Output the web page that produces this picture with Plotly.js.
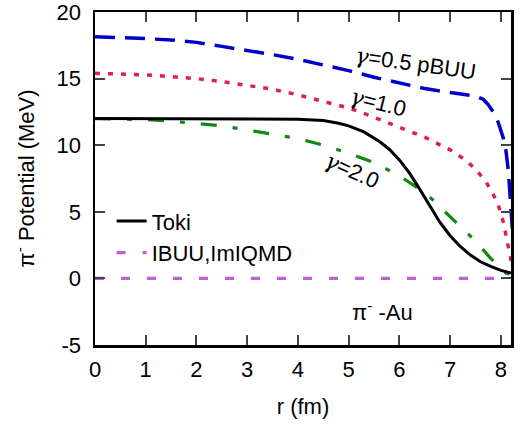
<!DOCTYPE html>
<html>
<head>
<meta charset="utf-8">
<script src="https://cdn.plot.ly/plotly-3.0.1.min.js"></script>
<style>html,body{margin:0;padding:0;background:#fff;}#chart{width:526px;height:425px;}</style>
</head>
<body>
<div id="chart"></div>
<script>
// r (fm) grids and potentials (MeV)
const rPbuu05 = [0, 0.5, 1.0, 1.5, 2.0, 2.5, 3.0, 3.5, 4.0, 4.5, 5.0, 5.5, 6.0, 6.5, 7.0, 7.3, 7.5, 7.65, 7.75, 7.85, 7.95, 8.05, 8.1, 8.15, 8.2, 8.23];
const vPbuu05 = [18.15, 18.1, 18.0, 17.9, 17.72, 17.42, 17.12, 16.8, 16.45, 16.05, 15.6, 15.1, 14.65, 14.25, 13.95, 13.82, 13.7, 13.45, 13.05, 12.5, 11.7, 10.5, 9.6, 8.0, 5.5, 3.5];

const rGamma10 = [0, 0.5, 1.0, 1.5, 2.0, 2.5, 3.0, 3.5, 4.0, 4.5, 5.0, 5.5, 6.0, 6.5, 7.0, 7.3, 7.5, 7.7, 7.85, 7.95, 8.05, 8.12, 8.18, 8.22];
const vGamma10 = [15.4, 15.35, 15.28, 15.15, 15.0, 14.78, 14.52, 14.2, 13.78, 13.3, 12.8, 12.1, 11.35, 10.6, 9.65, 8.9, 8.2, 7.3, 6.3, 5.5, 4.2, 3.0, 1.9, 1.0];

const rGamma20 = [0, 0.5, 1.0, 1.5, 2.0, 2.5, 3.0, 3.5, 4.0, 4.5, 5.0, 5.5, 6.0, 6.3, 6.6, 6.9, 7.2, 7.5, 7.8, 8.0, 8.1, 8.2];
const vGamma20 = [12.0, 11.98, 11.92, 11.8, 11.65, 11.45, 11.15, 10.85, 10.5, 10.0, 9.4, 8.7, 7.7, 6.95, 6.1, 5.0, 3.9, 2.8, 1.5, 0.75, 0.4, 0.3];

const rToki = [0, 1, 2, 3, 4, 4.5, 4.8, 5.0, 5.3, 5.6, 5.8, 6.0, 6.2, 6.4, 6.6, 6.8, 7.0, 7.2, 7.4, 7.6, 7.8, 8.0, 8.2];
const vToki = [12.0, 12.0, 12.0, 11.98, 11.95, 11.85, 11.65, 11.45, 11.0, 10.3, 9.7, 8.9, 7.9, 6.7, 5.4, 4.2, 3.2, 2.4, 1.75, 1.25, 0.9, 0.6, 0.4];

const rIbuu = [0, 8.07];
const vIbuu = [0, 0];

const seriesNames = ["Toki", "IBUU,ImIQMD"];
const xTicks = [0, 1, 2, 3, 4, 5, 6, 7, 8];
const xTickText = ["0", "1", "2", "3", "4", "5", "6", "7", "8"];
const yTicks = [-5, 0, 5, 10, 15, 20];
const yTickText = ["-5", "0", "5", "10", "15", "20"];

const FONT = "Liberation Sans, Arial, Helvetica, sans-serif";
const GAMMA = '<span style="font-family:DejaVu Serif;font-style:italic">γ</span>';

const traces = [
  {x: rPbuu05, y: vPbuu05, mode: "lines", showlegend: false,
   line: {color: "#0000cc", width: 3.5, dash: "20px,10px"}},
  {x: rGamma10, y: vGamma10, mode: "lines", showlegend: false,
   line: {color: "#e0204a", width: 3.5, dash: "5px,8px"}},
  {x: rGamma20, y: vGamma20, mode: "lines", showlegend: false,
   line: {color: "#118811", width: 3.2, dash: "16px,16px,5px,16px"}},
  {x: rToki, y: vToki, mode: "lines", name: seriesNames[0],
   line: {color: "#000000", width: 3}},
  {x: rIbuu, y: vIbuu, mode: "lines", name: seriesNames[1],
   line: {color: "#c060d8", width: 3.2, dash: "9px,17px"}}
];

const layout = {
  width: 526, height: 425,
  margin: {l: 95, r: 15, t: 12, b: 80},
  paper_bgcolor: "#ffffff", plot_bgcolor: "#ffffff",
  font: {family: FONT, size: 22, color: "#000"},
  xaxis: {
    range: [0, 8.2], tickvals: xTicks, ticktext: xTickText, ticks: "inside", ticklen: 10, tickwidth: 2,
    showline: true, linewidth: 2.5, linecolor: "#000", mirror: "ticks",
    showgrid: false, zeroline: false, ticklabelstandoff: 3, ticklabeloverflow: "allow",
    tickfont: {family: FONT, size: 22},
    title: {text: "r (fm)", font: {family: FONT, size: 22}, standoff: 18}
  },
  yaxis: {
    range: [-5, 20], tickvals: yTicks, ticktext: yTickText, ticks: "inside", ticklen: 10, tickwidth: 2,
    showline: true, linewidth: 2.5, linecolor: "#000", mirror: "ticks",
    showgrid: false, zeroline: false, ticklabelstandoff: 7, ticklabeloverflow: "allow",
    tickfont: {family: FONT, size: 22},
    title: {text: "π<sup>-</sup> Potential (MeV)", font: {family: FONT, size: 22}, standoff: 16}
  },
  showlegend: true,
  legend: {x: 0.04, y: 0.435, xanchor: "left", yanchor: "top", bgcolor: "rgba(0,0,0,0)",
           font: {family: FONT, size: 22}, tracegroupgap: 0},
  annotations: [
    {x: 415, y: 63, text: GAMMA + "=0.5 pBUU", textangle: 8},
    {x: 378, y: 102, text: GAMMA + "=1.0", textangle: 14},
    {x: 352, y: 170, text: GAMMA + "=2.0", textangle: 24},
    {x: 382, y: 311, text: "π<sup>-</sup> -Au", textangle: 0}
  ]
};
// convert annotation pixel anchors to data coordinates via the axis scales
function pxToX(px) { return (px - 95) / (511 - 95) * 8.2; }
function pxToY(py) { return 20 - (py - 12) / (345 - 12) * 25; }
layout.annotations.forEach(a => {
  a.x = pxToX(a.x); a.y = pxToY(a.y);
  a.xref = "x"; a.yref = "y"; a.showarrow = false;
  a.font = {family: FONT, size: 22, color: "#000"};
});

Plotly.newPlot("chart", traces, layout, {displayModeBar: false, staticPlot: true});
</script>
</body>
</html>
